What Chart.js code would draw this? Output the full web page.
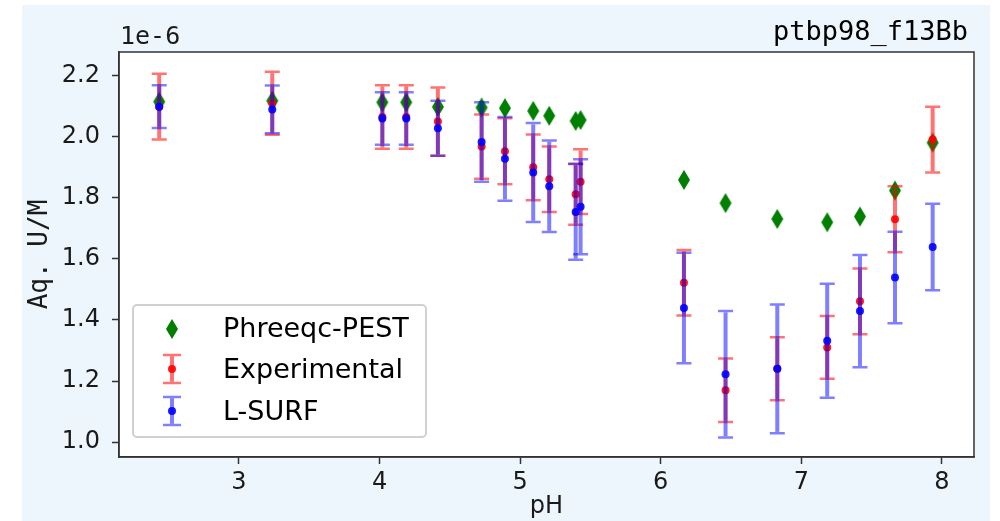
<!DOCTYPE html>
<html><head><meta charset="utf-8">
<script src="https://cdn.jsdelivr.net/npm/chart.js@4.4.0/dist/chart.umd.min.js"></script>
<style>html,body{margin:0;padding:0;background:#fff;overflow:hidden}#wrap{width:1000px;height:521px;position:relative}</style>
</head><body><div id="wrap"><canvas id="c" width="1000" height="521"></canvas></div>
<script>
// values in units of 1e-6 M
const pH       = [2.433, 3.237, 4.02, 4.19, 4.415, 4.726, 4.892, 5.093, 5.207, 5.395, 5.43, 6.165, 6.461, 6.829, 7.184, 7.417, 7.666, 7.934];
const pestU    = [2.115, 2.118, 2.113, 2.113, 2.098, 2.096, 2.094, 2.085, 2.069, 2.052, 2.055, 1.859, 1.783, 1.731, 1.720, 1.739, 1.824, 1.981];
const expU     = [2.099, 2.110, 2.065, 2.065, 2.050, 1.968, 1.953, 1.900, 1.861, 1.812, 1.853, 1.522, 1.170, 1.240, 1.310, 1.461, 1.730, 1.991];
const expErr   = [0.108, 0.103, 0.104, 0.104, 0.112, 0.105, 0.108, 0.108, 0.107, 0.100, 0.106, 0.107, 0.104, 0.103, 0.103, 0.108, 0.108, 0.108];
const lsurfU   = [2.099, 2.090, 2.060, 2.060, 2.028, 1.983, 1.928, 1.883, 1.838, 1.754, 1.771, 1.439, 1.222, 1.240, 1.332, 1.429, 1.539, 1.639];
const lsurfErr = [0.070, 0.078, 0.086, 0.086, 0.090, 0.130, 0.137, 0.162, 0.150, 0.157, 0.156, 0.181, 0.207, 0.211, 0.187, 0.184, 0.150, 0.142];
const X_TICKS = [3, 4, 5, 6, 7, 8];
const Y_TICKS = [1.0, 1.2, 1.4, 1.6, 1.8, 2.0, 2.2];
const SERIES = ['Phreeqc-PEST', 'Experimental', 'L-SURF'];
const TITLE = 'ptbp98_f13Bb';
const X_LABEL = 'pH';
const Y_LABEL = 'Aq. U/M';
const Y_OFFSET = '1e-6';

const GREEN = '#007f00', RED = 'rgba(255,0,0,0.9)', BLUE = 'rgba(0,0,255,0.9)';
const RED_BAR = 'rgba(255,0,0,0.55)', BLUE_BAR = 'rgba(0,0,255,0.5)';
const AX = '#333333', TXT = '#1a1a1a';

function diamond(w, h, color) {
  const c = document.createElement('canvas');
  c.width = w + 2; c.height = h + 2;
  const g = c.getContext('2d');
  g.fillStyle = color; g.beginPath();
  g.moveTo(c.width / 2, 1); g.lineTo(c.width - 1, c.height / 2);
  g.lineTo(c.width / 2, c.height - 1); g.lineTo(1, c.height / 2);
  g.closePath(); g.fill();
  return c;
}
const DIA = diamond(12, 20, GREEN);

function drawErr(ctx, x, yTop, yBot, color, capW) {
  ctx.strokeStyle = color;
  ctx.lineWidth = 4;
  ctx.beginPath(); ctx.moveTo(x, yTop + 1.25); ctx.lineTo(x, yBot - 1.25); ctx.stroke();
  ctx.lineWidth = 2.5;
  ctx.beginPath();
  ctx.moveTo(x - capW / 2, yTop); ctx.lineTo(x + capW / 2, yTop);
  ctx.moveTo(x - capW / 2, yBot); ctx.lineTo(x + capW / 2, yBot);
  ctx.stroke();
}

const bgPlugin = {
  id: 'bg',
  beforeDraw(chart) {
    const ctx = chart.ctx, a = chart.chartArea;
    ctx.save();
    ctx.fillStyle = '#ffffff'; ctx.fillRect(0, 0, chart.width, chart.height);
    ctx.fillStyle = '#eef6fd'; ctx.fillRect(22, 5, 968, 516);
    ctx.fillStyle = '#ffffff'; ctx.fillRect(a.left, a.top, a.right - a.left, a.bottom - a.top);
    ctx.restore();
  }
};

const errPlugin = {
  id: 'errbars',
  beforeDatasetDraw(chart, args) {
    const ds = chart.data.datasets[args.index];
    if (!ds.errors) return;
    const xs = chart.scales.x, ys = chart.scales.y, ctx = chart.ctx;
    ctx.save();
    ds.data.forEach((p, i) => {
      const x = xs.getPixelForValue(p.x);
      drawErr(ctx, x, ys.getPixelForValue(p.y + ds.errors[i]), ys.getPixelForValue(p.y - ds.errors[i]), ds.errColor, 15);
    });
    ctx.restore();
  }
};

const decoPlugin = {
  id: 'deco',
  afterDraw(chart) {
    const ctx = chart.ctx, a = chart.chartArea;
    ctx.save();
    // frame (top/right spines)
    ctx.strokeStyle = AX; ctx.lineWidth = 1.5;
    ctx.strokeRect(a.left, a.top, a.right - a.left, a.bottom - a.top);
    // title and offset text
    ctx.textBaseline = 'alphabetic';
    ctx.fillStyle = '#000';
    ctx.font = '27px "DejaVu Sans Mono"';
    ctx.textAlign = 'right';
    ctx.fillText(TITLE, 968, 40);
    ctx.fillStyle = TXT;
    ctx.font = '25px "DejaVu Sans Mono"';
    ctx.textAlign = 'left';
    ctx.fillText(Y_OFFSET, a.left + 1, 44);
    // legend
    const lx = 133, ly = 305, lw = 293, lh = 132;
    ctx.fillStyle = 'rgba(255,255,255,0.85)';
    ctx.strokeStyle = '#d0d0d0'; ctx.lineWidth = 2;
    ctx.beginPath(); ctx.roundRect(lx, ly, lw, lh, 4); ctx.fill(); ctx.stroke();
    const mx = 172;
    ctx.drawImage(DIA, mx - DIA.width / 2, 329 - DIA.height / 2);
    drawErr(ctx, mx, 355, 383, RED_BAR, 18);
    ctx.fillStyle = RED; ctx.beginPath(); ctx.arc(mx, 369, 4, 0, Math.PI * 2); ctx.fill();
    drawErr(ctx, mx, 397, 425, BLUE_BAR, 18);
    ctx.fillStyle = BLUE; ctx.beginPath(); ctx.arc(mx, 411, 4, 0, Math.PI * 2); ctx.fill();
    ctx.fillStyle = '#000';
    ctx.font = '27px "DejaVu Sans"';
    ctx.fillText(SERIES[0], 223, 337);
    ctx.fillText(SERIES[1], 223, 378);
    ctx.fillText(SERIES[2], 223, 420);
    ctx.restore();
  }
};

const pts = arr => pH.map((x, i) => ({x: x, y: arr[i]}));

new Chart(document.getElementById('c'), {
  type: 'scatter',
  data: {
    datasets: [
      {label: SERIES[0], data: pts(pestU), pointStyle: DIA, order: 3},
      {label: SERIES[1], data: pts(expU), errors: expErr, errColor: RED_BAR, pointRadius: 4, backgroundColor: RED, borderWidth: 0, order: 2},
      {label: SERIES[2], data: pts(lsurfU), errors: lsurfErr, errColor: BLUE_BAR, pointRadius: 4, backgroundColor: BLUE, borderWidth: 0, order: 1}
    ]
  },
  options: {
    responsive: false, animation: false, devicePixelRatio: 1,
    layout: {padding: {left: 0, right: 26, top: 52, bottom: 0}},
    plugins: {
      legend: {display: false}, tooltip: {enabled: false}, title: {display: false}
    },
    scales: {
      x: {
        type: 'linear', min: 2.147, max: 8.228,
        afterBuildTicks: s => { s.ticks = X_TICKS.map(v => ({value: v})); },
        afterFit: s => { s.height = 64; },
        grid: {drawOnChartArea: false, drawTicks: true, tickLength: 7, tickWidth: 1.5, color: AX},
        border: {display: true, color: AX, width: 1.5},
        ticks: {font: {family: 'DejaVu Sans', size: 24}, color: TXT, padding: 4, maxRotation: 0, autoSkip: false,
                callback: v => String(v)},
        title: {display: true, text: X_LABEL, color: TXT, font: {family: 'DejaVu Sans', size: 24}, padding: {top: 0, bottom: 0}}
      },
      y: {
        type: 'linear', min: 0.951, max: 2.278,
        afterBuildTicks: s => { s.ticks = Y_TICKS.map(v => ({value: v})); },
        afterFit: s => { s.width = 119; },
        grid: {drawOnChartArea: false, drawTicks: true, tickLength: 7, tickWidth: 1.5, color: AX},
        border: {display: true, color: AX, width: 1.5},
        ticks: {font: {family: 'DejaVu Sans', size: 24}, color: TXT, padding: 12, autoSkip: false,
                callback: v => Number(v).toFixed(1)},
        title: {display: true, text: Y_LABEL, color: TXT, font: {family: 'DejaVu Sans Mono', size: 26}, padding: {top: 25, bottom: 0}}
      }
    }
  },
  plugins: [bgPlugin, errPlugin, decoPlugin]
});
</script></body></html>
